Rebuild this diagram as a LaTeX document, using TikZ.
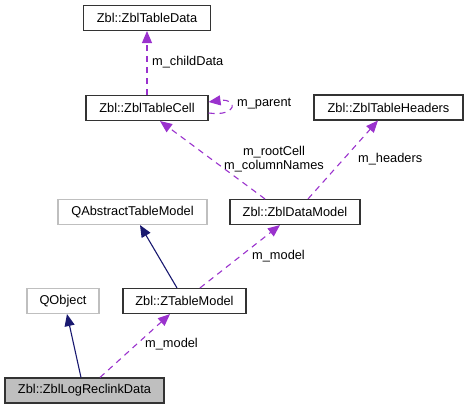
\documentclass[tikz,border=0pt]{standalone}
\usepackage{fontspec}
\setmainfont{Liberation Sans}
\usepackage{tikz}
\usetikzlibrary{arrows,arrows.meta}
\definecolor{edgepurple}{HTML}{9A32CD}
\definecolor{edgenavy}{HTML}{191970}
\definecolor{boxgray}{HTML}{BFBFBF}
\tikzstyle{cls}=[draw=black!80,line width=1.1pt,rectangle,inner sep=0pt,minimum height=25pt,font=\fontsize{12.8}{14}\selectfont]
\tikzstyle{ext}=[cls,draw=boxgray]
\tikzstyle{usage} = [draw=edgepurple, dashed, dash pattern=on 6pt off 5pt, line width=1.1pt, -{Triangle[length=12pt,width=10pt]}, edgepurple]
\tikzstyle{inherit} = [draw=edgenavy, line width=1.1pt, -{Triangle[length=12pt,width=10pt]}, edgenavy]
\tikzstyle{lbl}=[inner sep=0pt,font=\fontsize{12.8}{14}\selectfont]

\begin{document}
\begin{tikzpicture}[x=1pt,y=-1pt]
  \useasboundingbox (0,0) rectangle (467,409);
  \node[cls,minimum width=127pt] (TD) at (147,18)  {Zbl::ZblTableData};
  \node[cls,minimum width=122pt] (TC) at (147,108) {Zbl::ZblTableCell};
  \node[cls,minimum width=149pt] (TH) at (388.5,107.5) {Zbl::ZblTableHeaders};
  \node[ext,minimum width=149pt] (QA) at (132.5,212) {QAbstractTableModel};
  \node[cls,minimum width=130pt] (DM) at (295,212) {Zbl::ZblDataModel};
  \node[ext,minimum width=72pt]  (QO) at (63,301) {QObject};
  \node[cls,minimum width=123pt] (ZT) at (184.5,301) {Zbl::ZTableModel};
  \node[cls,fill=boxgray,minimum width=159pt] (LR) at (84.5,390.5) {Zbl::ZblLogReclinkData};
  % members
  \draw[usage] (TC.north) -- (TD.south);
  \node[lbl,anchor=west] (childlabel) at (152,62) {m\_childData};
  \draw[usage] ([yshift=-5pt]TC.east) .. controls (238,117) and (238,98) .. ([yshift=6pt]TC.east);
  \node[lbl,anchor=west] (parentlabel) at (237,104) {m\_parent};
  \draw[usage] ([xshift=-30pt]DM.north) -- ([xshift=13pt]TC.south);
  \node[lbl,align=center] (rootlabel) at (274,159) {m\_rootCell\\m\_columnNames};
  \draw[usage] ([xshift=13pt]DM.north) -- ([xshift=-10.5pt]TH.south);
  \node[lbl,anchor=west] (headerslabel) at (358,159) {m\_headers};
  \draw[usage] ([xshift=15.5pt]ZT.north) -- ([xshift=-15pt]DM.south);
  \node[lbl,anchor=west] (modellabel) at (252,256) {m\_model};
  \draw[usage] ([xshift=15.5pt]LR.north) -- ([xshift=-14.5pt]ZT.south);
  \node[lbl,anchor=west] (modellabel2) at (145,344) {m\_model};
  % base classes
  \draw[inherit] ([xshift=-7.5pt]ZT.north) -- ([xshift=7.5pt]QA.south);
  \draw[inherit] ([xshift=-3.5pt]LR.north) -- ([xshift=4pt]QO.south);
\end{tikzpicture}
\end{document}
